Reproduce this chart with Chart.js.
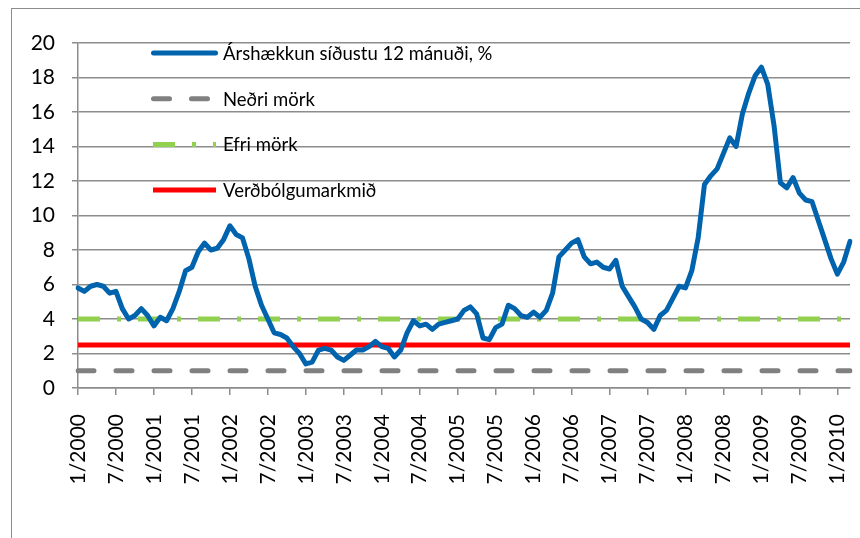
<!DOCTYPE html>
<html>
<head>
<meta charset="utf-8">
<script src="https://cdn.jsdelivr.net/npm/chart.js@4.4.1/dist/chart.umd.min.js"></script>
<style>
    body { margin: 0; background: #fff; overflow: hidden; }
    #frame { position: absolute; left: 11px; top: 8px; width: 900px; height: 600px; border: 1px solid #8c8c8c; }
    #wrap { position: absolute; left: 0; top: 0; width: 860px; height: 538px; }
</style>
</head>
<body>
<div id="frame"></div>
<div id="wrap"><canvas id="inflationChart"></canvas></div>
<script>
// 12 month CPI change, monthly from 1/2000 to 3/2010
const years = [2000, 2001, 2002, 2003, 2004, 2005, 2006, 2007, 2008, 2009, 2010];
const inflation2000 = [5.8, 5.6, 5.9, 6.0, 5.9, 5.5, 5.6, 4.6, 4.0, 4.2, 4.6, 4.2];
const inflation2001 = [3.6, 4.1, 3.9, 4.6, 5.6, 6.8, 7.0, 7.9, 8.4, 8.0, 8.1, 8.6];
const inflation2002 = [9.4, 8.9, 8.7, 7.5, 5.9, 4.8, 4.0, 3.2, 3.1, 2.9, 2.4, 2.0];
const inflation2003 = [1.4, 1.5, 2.2, 2.3, 2.2, 1.8, 1.6, 1.9, 2.2, 2.2, 2.4, 2.7];
const inflation2004 = [2.4, 2.3, 1.8, 2.2, 3.2, 3.9, 3.6, 3.7, 3.4, 3.7, 3.8, 3.9];
const inflation2005 = [4.0, 4.5, 4.7, 4.3, 2.9, 2.8, 3.5, 3.7, 4.8, 4.6, 4.2, 4.1];
const inflation2006 = [4.4, 4.1, 4.5, 5.5, 7.6, 8.0, 8.4, 8.6, 7.6, 7.2, 7.3, 7.0];
const inflation2007 = [6.9, 7.4, 5.9, 5.3, 4.7, 4.0, 3.8, 3.4, 4.2, 4.5, 5.2, 5.9];
const inflation2008 = [5.8, 6.8, 8.7, 11.8, 12.3, 12.7, 13.6, 14.5, 14.0, 15.9, 17.1, 18.1];
const inflation2009 = [18.6, 17.6, 15.2, 11.9, 11.6, 12.2, 11.3, 10.9, 10.8, 9.7, 8.6, 7.5];
const inflation2010 = [6.6, 7.3, 8.5];

const lowerLimit = 1;     // Neðri mörk
const upperLimit = 4;     // Efri mörk
const inflationTarget = 2.5; // Verðbólgumarkmið

const yTicks = [0, 2, 4, 6, 8, 10, 12, 14, 16, 18, 20];

const inflation = [].concat(inflation2000, inflation2001, inflation2002, inflation2003,
    inflation2004, inflation2005, inflation2006, inflation2007, inflation2008,
    inflation2009, inflation2010);

let labels = [];
years.forEach(y => {
    for (let m = 1; m <= 12; m++) {
        if (labels.length < inflation.length) labels.push(m + '/' + y);
    }
});

const FONT = 'Lato';
const GRID = '#8c8c8c';

// legend drawn inside the plot area, like the original
const inlineLegend = {
    id: 'inlineLegend',
    afterDraw(chart) {
        const ctx = chart.ctx;
        chart.data.datasets.forEach((ds, i) => {
            let y = 53 + i * 45.7;
            ctx.save();
            ctx.strokeStyle = ds.borderColor;
            ctx.lineWidth = ds.borderWidth;
            ctx.lineCap = ds.borderCapStyle || 'butt';
            ctx.setLineDash(ds.borderDash || []);
            ctx.beginPath();
            if (ctx.lineCap === 'round') {
                ctx.moveTo(153.5, y);
                ctx.lineTo(215.5, y);
            } else {
                ctx.moveTo(153, y);
                ctx.lineTo(216, y);
            }
            ctx.stroke();
            ctx.restore();

            ctx.save();
            ctx.fillStyle = '#000';
            ctx.font = '18.5px ' + FONT;
            ctx.textBaseline = 'middle';
            ctx.fillText(ds.label, 223, y + 1);
            ctx.restore();
        });
    }
};

new Chart(document.getElementById('inflationChart').getContext('2d'), {
    type: 'line',
    data: {
        labels: labels,
        datasets: [{
            label: 'Árshækkun síðustu 12 mánuði, %',
            data: inflation,
            borderColor: '#0063ae',
            borderWidth: 5,
            borderCapStyle: 'round',
            borderJoinStyle: 'round',
            pointRadius: 0,
            tension: 0
        }, {
            label: 'Neðri mörk',
            data: labels.map(() => lowerLimit),
            borderColor: '#808080',
            borderWidth: 5,
            borderCapStyle: 'round',
            borderDash: [16, 22],
            pointRadius: 0
        }, {
            label: 'Efri mörk',
            data: labels.map(() => upperLimit),
            borderColor: '#92d050',
            borderWidth: 5,
            borderCapStyle: 'butt',
            borderDash: [22, 17, 4, 17],
            pointRadius: 0
        }, {
            label: 'Verðbólgumarkmið',
            data: labels.map(() => inflationTarget),
            borderColor: '#ff0000',
            borderWidth: 5,
            borderCapStyle: 'butt',
            pointRadius: 0
        }]
    },
    options: {
        responsive: true,
        maintainAspectRatio: false,
        animation: false,
        layout: { padding: { left: 0, top: 43, right: 10, bottom: 0 } },
        plugins: {
            legend: { display: false },
            tooltip: { enabled: false }
        },
        scales: {
            x: {
                afterFit: s => {
                    s.height = 150;
                    s.paddingLeft = 0;
                    s.paddingRight = 0;
                },
                border: { display: true, color: GRID, width: 1.5 },
                grid: {
                    drawOnChartArea: false,
                    drawTicks: true,
                    tickLength: 7,
                    lineWidth: 1.5,
                    color: c => (c.index % 6 === 0 ? GRID : 'rgba(0,0,0,0)')
                },
                ticks: {
                    autoSkip: false,
                    maxRotation: 90,
                    minRotation: 90,
                    padding: 19,
                    color: '#000',
                    font: { family: FONT, size: 21 },
                    callback: (v, i) => (i % 6 === 0 ? labels[i] : '')
                }
            },
            y: {
                min: 0,
                max: 20,
                afterFit: s => { s.width = 78; },
                afterBuildTicks: s => { s.ticks = yTicks.map(v => ({ value: v })); },
                border: { display: true, color: GRID, width: 1.5 },
                grid: { color: GRID, lineWidth: 1.5, tickLength: 6 },
                ticks: {
                    padding: 17,
                    color: '#000',
                    font: { family: FONT, size: 21 }
                }
            }
        }
    },
    plugins: [inlineLegend]
});
</script>
</body>
</html>
